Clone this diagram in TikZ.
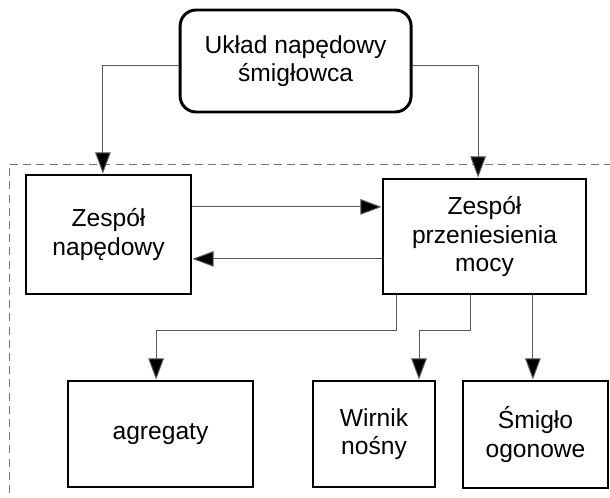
\documentclass[tikz,border=0pt]{standalone}
\usepackage{fontspec}
\setmainfont{Liberation Sans}
\usetikzlibrary{arrows.meta}

\tikzset{
  blok/.style={draw=black,line width=2.1pt,fill=white,align=center,inner sep=2pt,
    font=\fontsize{17.5}{20}\selectfont},
  polaczenie/.style={draw=black!65,line width=0.7pt,
    -{Triangle[length=5.3mm,width=3.9mm,fill=black]}},
}

\begin{document}
\begin{tikzpicture}[x=1cm,y=1cm]
  \useasboundingbox (0,0) rectangle (15.25,-12.45);
  % Ramka przerywana.
  \draw[black!55,line width=0.6pt,dash pattern=on 2mm off 1.3mm]
    (15.3,-4.1) -- (0.225,-4.1) -- (0.225,-12.5);

  % Bloki.
  \node[blok,rounded corners=0.4cm,minimum width=5.775cm,minimum height=2.55cm]
    (uklad) at (7.39,-1.525) {Układ napędowy\\śmigłowca};
  \node[blok,minimum width=4.125cm,minimum height=2.975cm]
    (zn) at (2.7125,-5.8625) {Zespół\\napędowy};
  \node[blok,minimum width=5.075cm,minimum height=2.875cm]
    (zpm) at (12.1125,-5.9125) {Zespół\\przeniesienia\\mocy};
  \node[blok,minimum width=4.625cm,minimum height=2.65cm]
    (agr) at (4.0125,-10.85) {agregaty};
  \node[blok,minimum width=3.05cm,minimum height=2.65cm]
    (wirnik) at (9.35,-10.85) {Wirnik\\nośny};
  \node[blok,minimum width=3.625cm,minimum height=2.675cm]
    (smiglo) at (13.3875,-10.8625) {Śmigło\\ogonowe};

  % Połączenia.
  \draw[polaczenie] ([yshift=-0.1cm]uklad.west) -| ([xshift=-0.14cm]zn.north);
  \draw[polaczenie] ([yshift=-0.1cm]uklad.east) -| ([xshift=-0.16cm]zpm.north);
  \draw[polaczenie] ([yshift=0.69cm]zn.east) -- ([yshift=0.69cm]zn.east -| zpm.west);
  \draw[polaczenie] ([yshift=-0.61cm]zn.east -| zpm.west) -- ([yshift=-0.61cm]zn.east);
  \draw[polaczenie] ([xshift=-2.21cm]zpm.south) -- ++(0,-0.875)
    -| ([xshift=-0.11cm]agr.north);
  \draw[polaczenie] ([xshift=-0.34cm]zpm.south) -- ++(0,-0.875)
    -| ([xshift=1.125cm]wirnik.north);
  \draw[polaczenie] ([xshift=1.21cm]zpm.south) -- ([xshift=1.21cm]zpm.south |- smiglo.north);
\end{tikzpicture}
\end{document}
